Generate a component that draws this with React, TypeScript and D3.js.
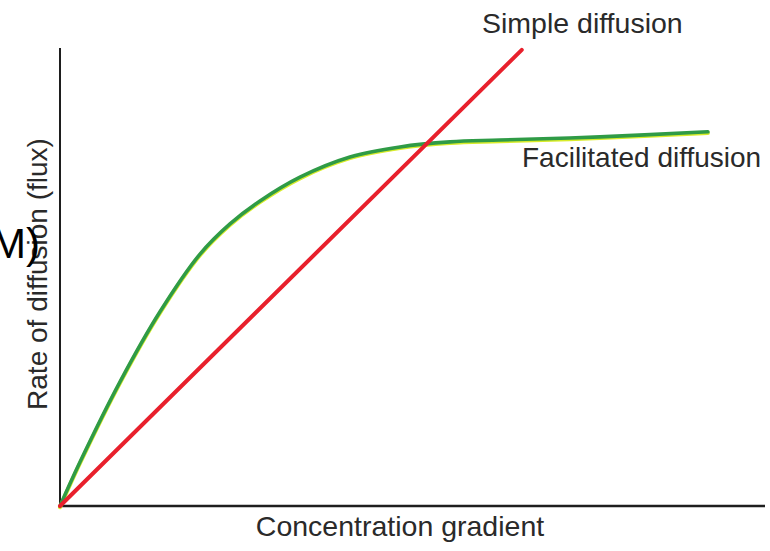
import React from "react";
import * as d3 from "d3";

const simpleX = [0, 65.5];
const simpleY = [0, 99.6];

const facX = [0, 2.84, 8.51, 14.18, 19.86, 24.11, 28.37, 34.04, 41.13, 48.23, 55.32, 62.41, 76.6, 91.9];
const facY = [0, 9.6, 27.1, 42.4, 55.0, 61.6, 66.6, 71.8, 76.2, 78.4, 79.5, 79.9, 80.6, 81.7];

const xLabel = "Concentration gradient";
const yLabel = "Rate of diffusion  (flux)";
const simpleLabel = "Simple diffusion";
const facLabel = "Facilitated diffusion";
const strayLabel = "M)";

export default function App() {
  const W = 770, H = 551;
  const x = d3.scaleLinear().domain([0, 100]).range([60, 765]);
  const y = d3.scaleLinear().domain([0, 100]).range([506, 48]);

  const simple = simpleX.map((v, i) => [v, simpleY[i]] as [number, number]);
  const fac = facX.map((v, i) => [v, facY[i]] as [number, number]);

  const line = d3.line<[number, number]>().x(d => x(d[0])).y(d => y(d[1]));
  const curve = d3.line<[number, number]>().x(d => x(d[0])).y(d => y(d[1])).curve(d3.curveCatmullRom.alpha(0.5));

  const font = "'Liberation Sans', Arial, sans-serif";
  const textColor = "#2a2a2a";

  return (
    <svg width={W} height={H} style={{ position: "absolute", left: 0, top: 0, background: "#fff" }}>
      <rect x={0} y={0} width={W} height={H} fill="#fff" />
      {/* axes */}
      <line x1={x(0)} y1={y(100)} x2={x(0)} y2={y(0)} stroke="#1e1e1e" strokeWidth={2} />
      <line x1={x(0)} y1={y(0)} x2={x(100)} y2={y(0)} stroke="#1e1e1e" strokeWidth={2.5} />

      {/* facilitated diffusion: yellow edge then green */}
      <path d={curve(fac) || ""} transform="translate(0,1.2)" fill="none" stroke="#d8ec2a" strokeWidth={4} strokeLinecap="round" />
      <path d={curve(fac) || ""} fill="none" stroke="#2f9b46" strokeWidth={3.6} strokeLinecap="round" />

      {/* simple diffusion */}
      <path d={line(simple) || ""} fill="none" stroke="#e8202c" strokeWidth={4} strokeLinecap="round" />

      {/* labels */}
      <text x={482} y={33} fontFamily={font} fontSize={28.5} fill={textColor}>{simpleLabel}</text>
      <text x={522} y={167} fontFamily={font} fontSize={28} fill={textColor}>{facLabel}</text>
      <text x={400} y={536} textAnchor="middle" fontFamily={font} fontSize={28.5} fill={textColor}>{xLabel}</text>
      <text transform="translate(47,274) rotate(-90)" textAnchor="middle" fontFamily={font} fontSize={28} fill={textColor}>{yLabel}</text>
      <text x={40} y={258} textAnchor="end" fontFamily={font} fontSize={42} fill="#000">{strayLabel}</text>
    </svg>
  );
}
